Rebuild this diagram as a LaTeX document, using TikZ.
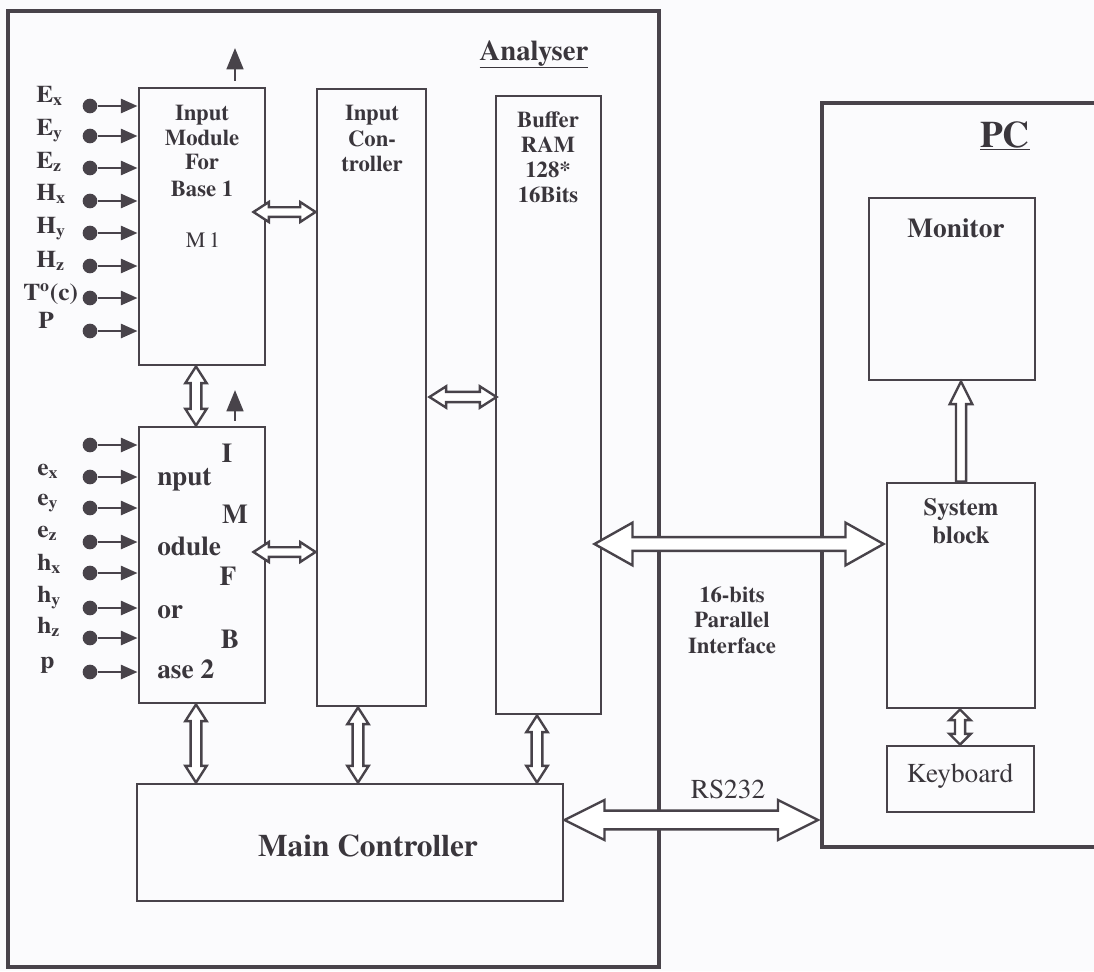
\documentclass[tikz,border=0pt]{standalone}
\usepackage{fontspec}
\setmainfont{texgyretermes}[Extension=.otf,UprightFont=*-regular,BoldFont=*-bold,ItalicFont=*-italic,BoldItalicFont=*-bolditalic]
\usetikzlibrary{calc,arrows.meta,fit}
\definecolor{ink}{HTML}{48434A}
\definecolor{txt}{HTML}{3A363C}
\definecolor{paper}{HTML}{FBFBFD}
% hollow double arrow, horizontal: from, to, shaft half width, head half width, head length
\newcommand\hdbl[5]{\draw[hollow] let \p1=(#1), \p2=(#2) in
  (\x1,\y1) -- (\x1+#5,\y1+#4) -- (\x1+#5,\y1+#3) -- (\x2-#5,\y1+#3) -- (\x2-#5,\y1+#4) --
  (\x2,\y1) -- (\x2-#5,\y1-#4) -- (\x2-#5,\y1-#3) -- (\x1+#5,\y1-#3) -- (\x1+#5,\y1-#4) -- cycle;}
% hollow double arrow, vertical: top, bottom, ...
\newcommand\vdbl[5]{\draw[hollow] let \p1=(#1), \p2=(#2) in
  (\x1,\y1) -- (\x1+#4,\y1-#5) -- (\x1+#3,\y1-#5) -- (\x1+#3,\y2+#5) -- (\x1+#4,\y2+#5) --
  (\x1,\y2) -- (\x1-#4,\y2+#5) -- (\x1-#3,\y2+#5) -- (\x1-#3,\y1-#5) -- (\x1-#4,\y1-#5) -- cycle;}
% hollow single arrow pointing up: tip, base, ...
\newcommand\vsgl[5]{\draw[hollow] let \p1=(#1), \p2=(#2) in
  (\x1,\y1) -- (\x1+#4,\y1-#5) -- (\x1+#3,\y1-#5) -- (\x1+#3,\y2) -- (\x1-#3,\y2) --
  (\x1-#3,\y1-#5) -- (\x1-#4,\y1-#5) -- cycle;}
\begin{document}
\begin{tikzpicture}[x=0.75pt,y=-0.75pt,
  box/.style={draw=ink, line width=2.2pt, inner sep=0pt},
  frame/.style={draw=ink, line width=3pt, inner sep=0pt},
  hollow/.style={draw=ink, line width=1.8pt, fill=white, line join=miter},
  sig/.style={draw=ink, line width=2pt, -{Triangle[length=12.5pt,width=10.5pt]}},
  upsig/.style={draw=ink, line width=2pt, -{Triangle[length=16pt,width=12.5pt]}},
  dotc/.style={circle, fill=ink, inner sep=0pt, minimum size=11pt},
  lab/.style={text=txt, inner sep=0pt, anchor=base},
  labw/.style={text=txt, inner sep=0pt, anchor=base west},
  fmod/.style={font={\fontsize{17}{20}\selectfont\bfseries}},
  fin/.style={font={\fontsize{18}{21}\selectfont\bfseries\addfontfeature{FakeStretch=1.06}}},
  fm2/.style={font={\fontsize{20.5}{24}\selectfont\bfseries}}]
\useasboundingbox (0,0) rectangle (1094,971);
\fill[paper] (0,0) rectangle (1094,971);

% frames
\node[frame, fit={(8,11) (659,967)}] (an) {};
\node[frame, fit={(822,103) (1110,847)}] (pc) {};
\node[lab, font={\fontsize{21.5}{25}\selectfont\bfseries}] (antitle) at (534,60) {\underline{Analyser}};
\node[lab, font={\fontsize{28}{32}\selectfont\bfseries}] (pctitle) at (1005,147) {\underline{PC}};

% boxes
\node[box, fit={(139,88) (265,365)}] (m1) {};
\node[box, fit={(139,427) (265,703)}] (m2) {};
\node[box, fit={(317,89) (426,706)}] (ic) {};
\node[box, fit={(496,96) (601,714)}] (br) {};
\node[box, fit={(137,784) (563,901)}] (mc) {};
\node[box, fit={(869,198) (1035,380)}] (mon) {};
\node[box, fit={(887,483) (1035,708)}] (sb) {};
\node[box, fit={(887,746) (1034,812)}] (kb) {};

% box texts
\foreach \t/\y [count=\i] in {Input/120, Module/145, For/169, Base 1/196}
  \node[lab, fmod] (m1t\i) at (202,\y) {\t};
\node[lab, font={\fontsize{16.5}{19}\selectfont}] (m1t5) at (203,247) {M\,1};
\foreach \t/\y [count=\i] in {Input/120, Con-/146, troller/171}
  \node[lab, fmod] (ict\i) at (372,\y) {\t};
\foreach \t/\y [count=\i] in {Buffer/127, RAM/152, 128*/177, 16Bits/202}
  \node[lab, fmod] (brt\i) at (548,\y) {\t};
\foreach \t/\x/\y [count=\i] in {I/227/462, M/235/523, F/228/585, B/230/648}
  \node[lab, fm2] (m2c\i) at (\x,\y) {\t};
\foreach \t/\y [count=\i] in {nput/485, odule/555, or/618, ase 2/678}
  \node[labw, fm2] (m2l\i) at (157,\y) {\t};
\node[lab, font={\fontsize{23.5}{27}\selectfont\bfseries}] (mct) at (368,856) {Main Controller};
\node[lab, font={\fontsize{20.5}{24}\selectfont\bfseries}] (mont) at (956,237) {Monitor};
\node[lab, font={\fontsize{18.5}{22}\selectfont\bfseries}] (sbt1) at (961,515) {System};
\node[lab, font={\fontsize{18.5}{22}\selectfont\bfseries}] (sbt2) at (961,543) {block};
\node[lab, font={\fontsize{20.5}{24}\selectfont}] (kbt) at (960,782) {Keyboard};
\foreach \t/\y [count=\i] in {16-bits/602, Parallel/627, Interface/653}
  \node[lab, font={\fontsize{17}{20}\selectfont\bfseries}] (pit\i) at (732,\y) {\t};
\node[lab, font={\fontsize{20.5}{24}\selectfont}] (rst) at (728,798) {RS232};

% input signals of M1
\foreach \y [count=\i] in {106,136,168,201,233,266,298,331}{
  \node[dotc] (a\i) at (90,\y) {};
  \draw[sig] (a\i) -- (m1.west |- a\i);
}
\foreach \t/\x/\y [count=\i] in {{E\textsubscript{x}}/36/102, {E\textsubscript{y}}/36/135, {E\textsubscript{z}}/36/168,
    {H\textsubscript{x}}/36/200, {H\textsubscript{y}}/36/233, {H\textsubscript{z}}/36/267,
    {T\textsuperscript{o}(c)}/23/300, {P}/38/328}
  \node[labw, fin] (al\i) at (\x,\y) {\t};
% input signals of M2
\foreach \y [count=\i] in {445,477,508,542,573,608,638,672}{
  \node[dotc] (b\i) at (90,\y) {};
  \draw[sig] (b\i) -- (m2.west |- b\i);
}
\foreach \t/\x/\y [count=\i] in {{e\textsubscript{x}}/37/475, {e\textsubscript{y}}/37/505, {e\textsubscript{z}}/37/537,
    {h\textsubscript{x}}/37/570, {h\textsubscript{y}}/37/602, {h\textsubscript{z}}/37/633, {p}/40/668}
  \node[labw, fin] (bl\i) at (\x,\y) {\t};

% output arrows on top of modules
\coordinate (o1) at (235,48);
\coordinate (o2) at (235,390);
\draw[upsig] ($(m1.north -| o1)+(0,-6)$) -- (o1);
\draw[upsig] ($(m2.north -| o2)+(0,-5)$) -- (o2);

% level coordinates
\coordinate (y1) at (0,212);
\coordinate (y2) at (0,552);
\coordinate (y3) at (0,397);
\coordinate (y4) at (0,544);
\coordinate (y5) at (0,820);
\coordinate (xa) at (196,0);
\coordinate (xb) at (358,0);
\coordinate (xc) at (537,0);
\coordinate (xd) at (960,0);
\coordinate (xe) at (961,0);

% small double arrows
\hdbl{$(m1.east |- y1)+(-13,0)$}{ic.west |- y1}{3.6pt}{7.5pt}{11.5pt}
\hdbl{$(m2.east |- y2)+(-13,0)$}{ic.west |- y2}{3.6pt}{7.5pt}{11.5pt}
\hdbl{$(ic.east |- y3)+(2,0)$}{$(br.west |- y3)+(2,0)$}{3.8pt}{8pt}{12.5pt}
\vdbl{m1.south -| xa}{m2.north -| xa}{4pt}{8pt}{12.5pt}
\vdbl{m2.south -| xa}{mc.north -| xa}{4pt}{8pt}{12.5pt}
\vdbl{ic.south -| xb}{mc.north -| xb}{4pt}{8pt}{12.5pt}
\vdbl{br.south -| xc}{mc.north -| xc}{4pt}{8pt}{12.5pt}
\vdbl{sb.south -| xd}{kb.north -| xd}{3.8pt}{8pt}{8pt}
\vsgl{mon.south -| xe}{sb.north -| xe}{3.8pt}{8.5pt}{17pt}

% large double arrows
\hdbl{$(br.east |- y4)+(-8,0)$}{$(sb.west |- y4)+(-2,0)$}{5.2pt}{16pt}{28.5pt}
\hdbl{mc.east |- y5}{$(pc.west |- y5)+(-2,0)$}{7pt}{15pt}{30pt}
\end{tikzpicture}
\end{document}
